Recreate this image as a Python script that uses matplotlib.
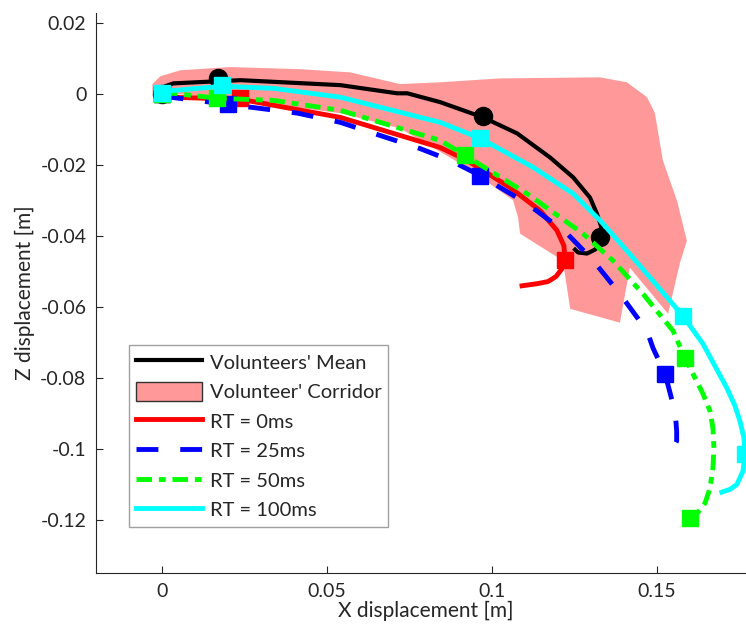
import numpy as np
import matplotlib
matplotlib.use("Agg")
import matplotlib.pyplot as plt
from matplotlib.patches import Patch
from matplotlib.ticker import FuncFormatter

# volunteers' corridor outline (x, z)
corr_x = [-0.0029, -0.0005, 0.0056, 0.0207, 0.0419, 0.0571, 0.0722, 0.0844, 0.1025, 0.1328,
          0.1410, 0.1471, 0.1495, 0.1519, 0.1562, 0.1592, 0.1571, 0.1535, 0.1419, 0.1389,
          0.1238, 0.1216, 0.1086, 0.1080, 0.1065, 0.0925, 0.0722, 0.0541, 0.0238, 0.0056, -0.0029]
corr_z = [0.0029, 0.0051, 0.0068, 0.0077, 0.0071, 0.0062, 0.0029, 0.0034, 0.0045, 0.0048,
          0.0034, -0.0008, -0.0053, -0.0186, -0.0300, -0.0413, -0.0475, -0.0619, -0.0489, -0.0644,
          -0.0605, -0.0469, -0.0393, -0.0347, -0.0299, -0.0206, -0.0096, -0.0053, -0.0017, 0.0000, 0.0006]

# volunteers' mean
mean_x = [0, 0.001, 0.0035, 0.0238, 0.0541, 0.0713, 0.0744, 0.0844, 0.0974, 0.1077, 0.1177,
          0.1247, 0.1298, 0.1319, 0.1331, 0.1335, 0.1329, 0.1313, 0.1289, 0.1262, 0.1253]
mean_z = [0, 0.0023, 0.0031, 0.0040, 0.0026, 0.0003, 0.0003, -0.0022, -0.0065, -0.0110, -0.0178,
          -0.0234, -0.0291, -0.0336, -0.0370, -0.0404, -0.0424, -0.0438, -0.0449, -0.0446, -0.0438]
mean_mx = [0, 0.0171, 0.0974, 0.1329]
mean_mz = [0, 0.0046, -0.0062, -0.0401]

# RT = 0ms
rt0_x = [0, 0.0025, 0.0238, 0.0541, 0.0844, 0.0925, 0.1056, 0.1147, 0.1198, 0.1219, 0.1222,
         0.1213, 0.1195, 0.1171, 0.1138, 0.1092]
rt0_z = [0, -0.0008, -0.0014, -0.0065, -0.0150, -0.0186, -0.0263, -0.0328, -0.0384, -0.0427, -0.0464,
         -0.0492, -0.0514, -0.0528, -0.0534, -0.0540]
rt0_mx = [0, 0.0238, 0.1222]
rt0_mz = [0, -0.0010, -0.0466]

# RT = 25ms
rt25_x = [0, 0.0025, 0.0199, 0.0411, 0.0541, 0.0662, 0.0783, 0.0874, 0.0965, 0.1107, 0.1229,
          0.1308, 0.1389, 0.1471, 0.1489, 0.1526, 0.1550, 0.1558, 0.1561, 0.1561, 0.1550,
          0.1535, 0.1517]
rt25_z = [0, -0.0008, -0.0028, -0.0053, -0.0079, -0.0116, -0.0153, -0.0186, -0.0229, -0.0308, -0.0393,
          -0.0469, -0.0563, -0.0667, -0.0715, -0.0789, -0.0874, -0.0913, -0.0950, -0.0978, -0.0998,
          -0.1009, -0.1012]
rt25_mx = [0, 0.0199, 0.0965, 0.1526]
rt25_mz = [0, -0.0028, -0.0229, -0.0789]

# RT = 50ms
rt50_x = [0, 0.0035, 0.0168, 0.0338, 0.0541, 0.0844, 0.0919, 0.1107, 0.1277, 0.1368, 0.1459,
          0.1550, 0.1586, 0.1641, 0.1662, 0.1671, 0.1674, 0.1671, 0.1662, 0.1647, 0.1623, 0.1601]
rt50_z = [0, 0.0003, -0.0011, -0.0017, -0.0045, -0.0130, -0.0172, -0.0280, -0.0393, -0.0469, -0.0563,
          -0.0667, -0.0743, -0.0845, -0.0893, -0.0941, -0.0998, -0.1054, -0.1111, -0.1153, -0.1182, -0.1196]
rt50_mx = [0, 0.0168, 0.0919, 0.1586, 0.1601]
rt50_mz = [0, -0.0011, -0.0172, -0.0743, -0.1196]

# RT = 100ms
rt100_x = [0, 0.0025, 0.0183, 0.0338, 0.0541, 0.0844, 0.0965, 0.1126, 0.1247, 0.1329, 0.1410,
           0.1489, 0.1580, 0.1641, 0.1677, 0.1713, 0.1738, 0.1753, 0.1765, 0.1768, 0.1762,
           0.1744, 0.1723, 0.1698]
rt100_z = [0, 0.0010, 0.0023, 0.0017, -0.0008, -0.0079, -0.0124, -0.0206, -0.0280, -0.0356, -0.0441,
           -0.0526, -0.0625, -0.0704, -0.0766, -0.0828, -0.0879, -0.0922, -0.0969, -0.1015, -0.1063,
           -0.1100, -0.1114, -0.1122]
rt100_mx = [0, 0.0183, 0.0965, 0.1580, 0.1768]
rt100_mz = [0.0003, 0.0025, -0.0124, -0.0625, -0.1015]

legend_labels = ["Volunteers' Mean", "Volunteer' Corridor", "RT = 0ms", "RT = 25ms", "RT = 50ms", "RT = 100ms"]

plt.rcParams['font.family'] = ['Lato', 'DejaVu Sans']
txt = '#262626'

fig = plt.figure(figsize=(7.46, 6.28), dpi=100)
ax = fig.add_axes([0.1287, 0.0876, 0.884, 0.892])

ax.fill(corr_x, corr_z, color='#ff9999', lw=0, zorder=1)

ax.plot(mean_x, mean_z, color='k', lw=3, zorder=2)
ax.plot(mean_mx, mean_mz, 'o', color='k', ms=13, zorder=2)

ax.plot(rt0_x, rt0_z, color='#ff0000', lw=3.5, zorder=3)
ax.plot(rt0_mx, rt0_mz, 's', color='#ff0000', ms=12, zorder=3)

ax.plot(rt25_x, rt25_z, color='#0000ff', lw=3.5, dashes=(4.5, 4.5), zorder=4)
ax.plot(rt25_mx, rt25_mz, 's', color='#0000ff', ms=12, zorder=4)

ax.plot(rt50_x, rt50_z, color='#00ff00', lw=3.5, dashes=(3.2, 1.4, 1.4, 1.4), zorder=5)
ax.plot(rt50_mx, rt50_mz, 's', color='#00ff00', ms=12, zorder=5)

ax.plot(rt100_x, rt100_z, color='#00ffff', lw=3.5, zorder=6)
ax.plot(rt100_mx, rt100_mz, 's', color='#00ffff', ms=12, zorder=6)

ax.set_xlim(-0.02, 0.18)
ax.set_ylim(-0.135, 0.023)
ax.set_xticks([0, 0.05, 0.1, 0.15])
ax.set_yticks([0.02, 0, -0.02, -0.04, -0.06, -0.08, -0.1, -0.12])
fmt = FuncFormatter(lambda v, _: '%g' % round(v, 4))
ax.xaxis.set_major_formatter(fmt)
ax.yaxis.set_major_formatter(fmt)
ax.tick_params(direction='in', length=5, labelsize=14, colors=txt, pad=7)
for s in ['top', 'right']:
    ax.spines[s].set_visible(False)
for s in ['left', 'bottom']:
    ax.spines[s].set_color(txt)
    ax.spines[s].set_linewidth(0.8)

ax.set_xlabel('X displacement [m]', fontsize=15, color=txt, labelpad=1)
ax.set_ylabel('Z displacement [m]', fontsize=15, color=txt, labelpad=4)

handles = [
    plt.Line2D([], [], color='k', lw=3),
    Patch(facecolor='#ff9999', edgecolor='#333333', lw=1),
    plt.Line2D([], [], color='#ff0000', lw=3.5),
    plt.Line2D([], [], color='#0000ff', lw=3.5, dashes=(4.5, 4.5)),
    plt.Line2D([], [], color='#00ff00', lw=3.5, dashes=(3.2, 1.4, 1.4, 1.4)),
    plt.Line2D([], [], color='#00ffff', lw=3.5),
]
leg = ax.legend(handles, legend_labels, loc='upper left', bbox_to_anchor=(0.05, 0.407),
                fontsize=14.5, frameon=True, fancybox=False, handlelength=3.3, handleheight=1.1,
                labelspacing=0.5, handletextpad=0.35, borderpad=0.35, borderaxespad=0)
leg.get_frame().set_edgecolor('#888888')
leg.get_frame().set_linewidth(1)
for t in leg.get_texts():
    t.set_color(txt)

fig.savefig('out.png', dpi=100)
